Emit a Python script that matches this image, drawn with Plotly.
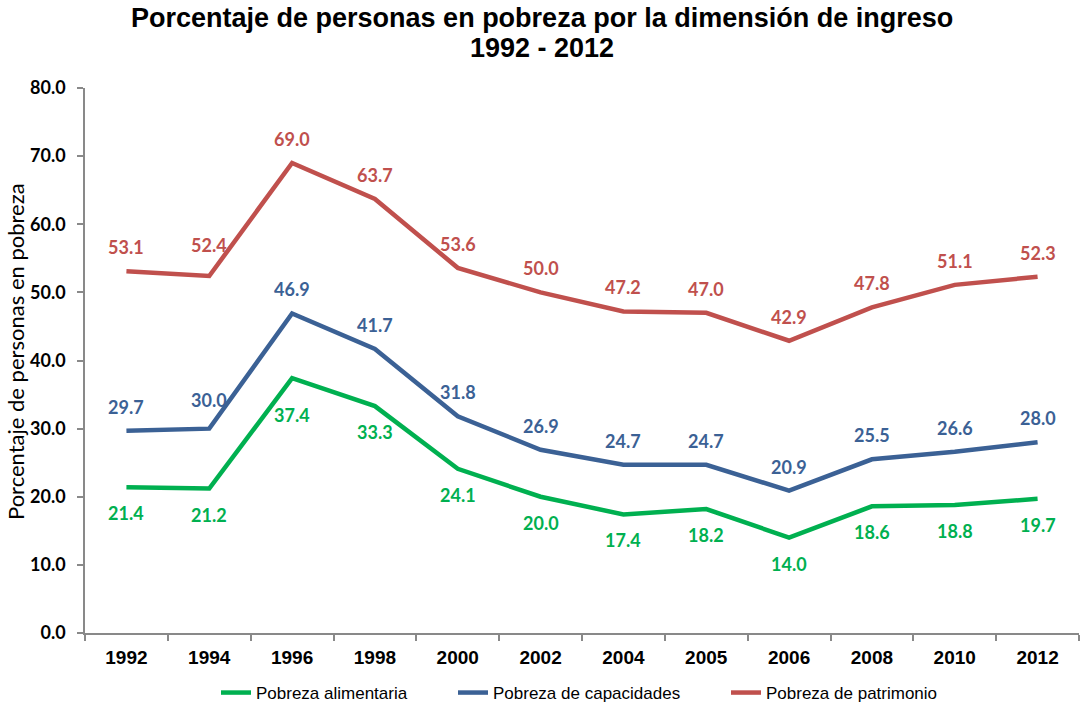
import plotly.graph_objects as go

years = ["1992", "1994", "1996", "1998", "2000", "2002", "2004", "2005", "2006", "2008", "2010", "2012"]
pobreza_alimentaria = [21.4, 21.2, 37.4, 33.3, 24.1, 20.0, 17.4, 18.2, 14.0, 18.6, 18.8, 19.7]
pobreza_capacidades = [29.7, 30.0, 46.9, 41.7, 31.8, 26.9, 24.7, 24.7, 20.9, 25.5, 26.6, 28.0]
pobreza_patrimonio = [53.1, 52.4, 69.0, 63.7, 53.6, 50.0, 47.2, 47.0, 42.9, 47.8, 51.1, 52.3]
title_lines = ["Porcentaje de personas en pobreza por la dimensión de ingreso", "1992 - 2012"]

series = [
    ("Pobreza alimentaria", pobreza_alimentaria, "#00B050", -26, "legend", 216),
    ("Pobreza de capacidades", pobreza_capacidades, "#3B6195", 24, "legend2", 453),
    ("Pobreza de patrimonio", pobreza_patrimonio, "#C0504D", 24, "legend3", 726),
]
# manual label nudges (series name, point index) -> yshift
label_shift_override = {
    ("Pobreza alimentaria", 2): -37,
    ("Pobreza de capacidades", 1): 29,
    ("Pobreza de patrimonio", 1): 31,
}

L, R, T, B = 85, 2, 88, 74
W, H = 1081, 707
plot_h = H - T - B
plot_w = W - L - R

fig = go.Figure()
annotations = []
legends = {}
for name, vals, color, shift, leg, lx in series:
    fig.add_trace(go.Scatter(
        x=years, y=vals, mode="lines", name=name,
        line=dict(color=color, width=4.5),
        legend=leg, hoverinfo="x+y",
    ))
    for i, v in enumerate(vals):
        annotations.append(dict(
            x=i, y=v, xref="x", yref="y", text=f"{v:.1f}", showarrow=False,
            yshift=label_shift_override.get((name, i), shift),
            font=dict(family="Lato", size=18, color=color, weight="bold"),
        ))
    legends[leg] = dict(
        xref="container", yref="container", x=lx / W, y=1 - 693 / H,
        xanchor="left", yanchor="middle", orientation="h",
        font=dict(family="Liberation Sans", size=17, color="#000000"),
        bgcolor="rgba(0,0,0,0)", borderwidth=0, itemwidth=30,
    )

annotations.append(dict(
    x=(15 - L) / plot_w, y=(H - B - 352) / plot_h, xref="paper", yref="paper",
    text="Porcentaje de personas en pobreza", textangle=-90, showarrow=False,
    font=dict(family="Lato", size=22, color="#000000"),
    xanchor="center", yanchor="middle",
))
for line_text, cy in zip(title_lines, [18, 48]):
    annotations.append(dict(
        x=(542 - L) / plot_w, y=(H - B - cy) / plot_h, xref="paper", yref="paper",
        text=line_text, showarrow=False, xanchor="center", yanchor="middle",
        font=dict(family="Liberation Sans", size=27, color="#000000", weight="bold"),
    ))

fig.update_layout(
    width=W, height=H,
    margin=dict(l=L, r=R, t=T, b=B, autoexpand=False),
    paper_bgcolor="white", plot_bgcolor="white",
    annotations=annotations,
    showlegend=True,
    **legends,
)

fig.update_xaxes(
    type="category", range=[-0.5, 11.5],
    showline=True, linecolor="#898989", linewidth=1.5,
    ticks="outside", tickson="boundaries", ticklen=6, tickcolor="#898989", tickwidth=1.5,
    showgrid=False, zeroline=False,
    tickfont=dict(family="Liberation Sans", size=19, color="#000000", weight="bold"),
    ticklabelstandoff=6,
)
fig.update_yaxes(
    range=[0, 80], dtick=10, tickformat=".1f",
    showline=True, linecolor="#898989", linewidth=1.5,
    ticks="outside", ticklen=6, tickcolor="#898989", tickwidth=1.5,
    showgrid=False, zeroline=False,
    tickfont=dict(family="Lato", size=18, color="#000000", weight="bold"),
    ticklabelstandoff=8,
)

fig.write_html("out.html", config={"displayModeBar": False},
               post_script="document.body.style.margin='0px';")
